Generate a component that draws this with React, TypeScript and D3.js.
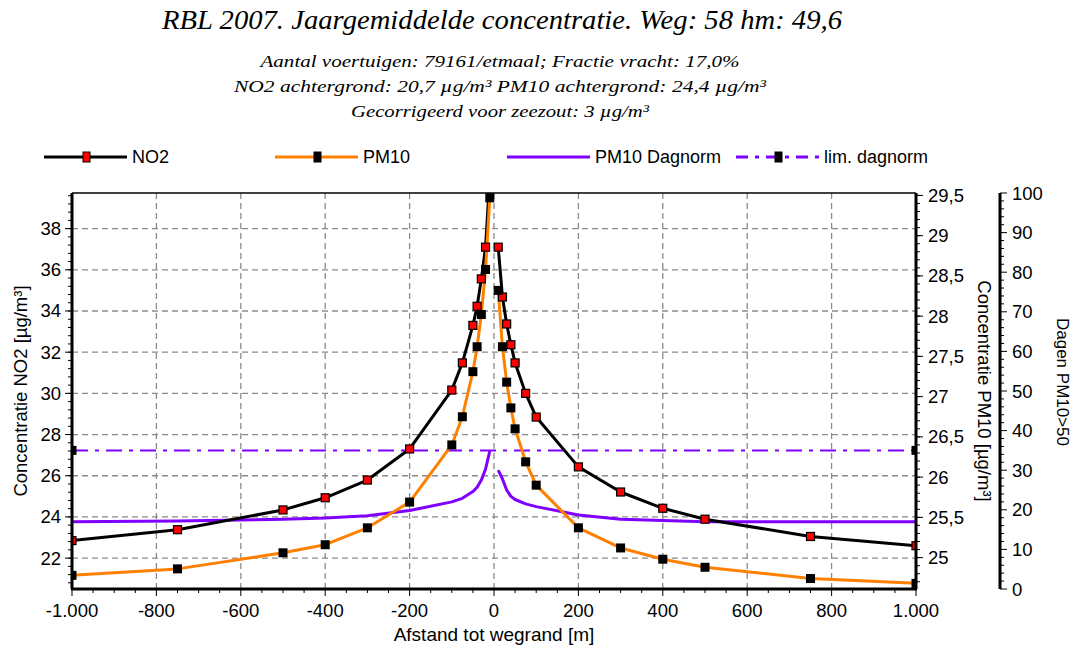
import * as d3 from "d3";

// afstanden links en rechts van de weg (gat over de weg zelf)
const distLeft = [-1000, -750, -500, -400, -300, -200, -100, -75, -50, -40, -30, -20, -10];
const distRight = [10, 20, 30, 40, 50, 75, 100, 200, 300, 400, 500, 750, 1000];

const no2Left = [22.85, 23.38, 24.34, 24.93, 25.79, 27.3, 30.16, 31.48, 33.3, 34.23, 35.56, 37.1, 40.5];
const no2Right = [37.1, 34.68, 33.37, 32.36, 31.48, 30.0, 28.85, 26.43, 25.21, 24.42, 23.89, 23.05, 22.6];

const pm10Left = [24.78, 24.86, 25.06, 25.16, 25.37, 25.69, 26.4, 26.75, 27.31, 27.62, 28.02, 28.58, 29.47];
const pm10Right = [28.32, 27.62, 27.18, 26.86, 26.6, 26.19, 25.9, 25.37, 25.12, 24.98, 24.88, 24.74, 24.68];

const dagLeft = [17.0, 17.2, 17.6, 17.9, 18.5, 19.8, 22.0, 22.9, 24.6, 25.7, 27.5, 30.3, 34.8];
const dagRight = [30.0, 27.8, 25.0, 23.4, 22.6, 21.5, 20.8, 18.7, 17.6, 17.3, 17.0, 17.0, 17.0];

const limDagnorm = 35;
const limDist = [-1000, 1000];

const distTicks = [-1000, -800, -600, -400, -200, 0, 200, 400, 600, 800, 1000];
const no2Ticks = [22, 24, 26, 28, 30, 32, 34, 36, 38];
const pm10Ticks = [25, 25.5, 26, 26.5, 27, 27.5, 28, 28.5, 29, 29.5];
const dagenTicks = [0, 10, 20, 30, 40, 50, 60, 70, 80, 90, 100];

const title = "RBL 2007. Jaargemiddelde concentratie. Weg: 58 hm: 49,6";
const subtitles = [
  "Aantal voertuigen: 79161/etmaal; Fractie vracht: 17,0%",
  "NO2 achtergrond: 20,7 µg/m³ PM10 achtergrond: 24,4 µg/m³",
  "Gecorrigeerd voor zeezout: 3 µg/m³",
];
const subWidths = [479, 532, 298];

const nl = d3.formatLocale({ decimal: ",", thousands: ".", grouping: [3], currency: ["", ""], minus: "-" });
const fmtDist = nl.format(",");
const fmtPm = nl.format(".1~f");

const L = 72, R = 916, T = 193, B = 589;
const ORANGE = "#ff8000";
const PURPLE = "#8000ff";
const GRID = "#8a8a8a";
const SANS = "'Liberation Sans', Arial, sans-serif";
const SERIF = "'Liberation Serif', 'Times New Roman', serif";
const TICK = 18.5;

export default function App() {
  const x = d3.scaleLinear().domain([-1000, 1000]).range([L, R]);
  const yNo2 = d3.scaleLinear().domain([20.5, 39.73]).range([B, T]);
  const yPm = d3.scaleLinear().domain([24.61, 29.53]).range([B, T]);
  const yDag = d3.scaleLinear().domain([0, 100]).range([B, T]);

  const mk = (ys: number[], dists: number[], sc: d3.ScaleLinear<number, number>) =>
    d3.line<number>().x((_, i) => x(dists[i])).y((v) => sc(v))(ys) || "";

  const no2Minor = d3.range(-4, 45).map((i) => 22 + i * 0.4).filter((v) => v >= 20.5 && v <= 39.73);
  const pmMinor = d3.range(-4, 46).map((i) => 25 + i * 0.1).filter((v) => v >= 24.61 && v <= 29.53);
  const dagMinor = d3.range(0, 101, 2);
  const distMinor = d3.range(-1000, 1001, 50);

  const legend = [
    { x0: 44, label: "NO2", color: "#000", marker: "red" },
    { x0: 275, label: "PM10", color: ORANGE, marker: "black" },
    { x0: 507, label: "PM10 Dagnorm", color: PURPLE, marker: "" },
    { x0: 736, label: "lim. dagnorm", color: PURPLE, marker: "black", dash: true },
  ];

  return (
    <svg width={1077} height={652} style={{ position: "absolute", left: 0, top: 0, background: "#fff" }}>
      <defs>
        <clipPath id="plot">
          <rect x={L} y={T} width={R - L} height={B - T} />
        </clipPath>
      </defs>

      {/* titels */}
      <text x={162} y={29} textLength={680} lengthAdjust="spacingAndGlyphs" fontFamily={SERIF} fontStyle="italic" fontSize={27}>
        {title}
      </text>
      {subtitles.map((s, i) => (
        <text key={s} x={500 - subWidths[i] / 2} y={67 + i * 25} textLength={subWidths[i]} lengthAdjust="spacingAndGlyphs"
          fontFamily={SERIF} fontStyle="italic" fontSize={17}>
          {s}
        </text>
      ))}

      {/* legenda */}
      {legend.map((d) => (
        <g key={d.label}>
          <line x1={d.x0} x2={d.x0 + 83} y1={157} y2={157} stroke={d.color} strokeWidth={3}
            strokeDasharray={d.dash ? "12,7,4,7" : undefined} />
          {d.marker && (
            <rect x={d.x0 + 39} y={152} width={7} height={10} fill={d.marker} stroke="#000" strokeWidth={1} />
          )}
          <text x={d.x0 + 88} y={163} fontFamily={SANS} fontSize={18}>{d.label}</text>
        </g>
      ))}

      {/* grid */}
      {no2Ticks.map((t) => (
        <line key={"gy" + t} x1={L} x2={R} y1={yNo2(t)} y2={yNo2(t)} stroke={GRID} strokeWidth={1.3} strokeDasharray="6,4" />
      ))}
      {distTicks.slice(1, -1).map((t) => (
        <line key={"gx" + t} x1={x(t)} x2={x(t)} y1={T} y2={B} stroke={GRID} strokeWidth={1.3} strokeDasharray="6,4" />
      ))}

      {/* series */}
      <g clipPath="url(#plot)" fill="none" strokeLinejoin="round">
        <path d={mk(dagLeft, distLeft, yDag)} stroke={PURPLE} strokeWidth={3} />
        <path d={mk(dagRight, distRight, yDag)} stroke={PURPLE} strokeWidth={3} />
        <line x1={x(limDist[0])} x2={x(limDist[1])} y1={yDag(limDagnorm)} y2={yDag(limDagnorm)}
          stroke={PURPLE} strokeWidth={2} strokeDasharray="16,7,4,7" />
        <path d={mk(no2Left, distLeft, yNo2)} stroke="#000" strokeWidth={3} />
        <path d={mk(no2Right, distRight, yNo2)} stroke="#000" strokeWidth={3} />
        <path d={mk(pm10Left, distLeft, yPm)} stroke={ORANGE} strokeWidth={3} />
        <path d={mk(pm10Right, distRight, yPm)} stroke={ORANGE} strokeWidth={3} />
      </g>
      <g clipPath="url(#plot)">
        {[...distLeft.map((d, i) => [d, no2Left[i]]), ...distRight.map((d, i) => [d, no2Right[i]])].map(([d, v]) => (
          <rect key={"n" + d} x={x(d) - 4} y={yNo2(v) - 4} width={8} height={8} fill="#ff0000" stroke="#000" strokeWidth={1.2} />
        ))}
        {[...distLeft.map((d, i) => [d, pm10Left[i]]), ...distRight.map((d, i) => [d, pm10Right[i]])].map(([d, v]) => (
          <rect key={"p" + d} x={x(d) - 4.5} y={yPm(v) - 4.5} width={9} height={9} fill="#000" />
        ))}
        {limDist.map((d) => (
          <rect key={"l" + d} x={x(d) - 4.5} y={yDag(limDagnorm) - 4.5} width={9} height={9} fill="#000" />
        ))}
      </g>

      {/* kader */}
      <line x1={L} x2={R} y1={T} y2={T} stroke="#000" strokeWidth={1.5} />

      {/* x-as */}
      <line x1={L - 1} x2={R + 1} y1={B} y2={B} stroke="#000" strokeWidth={3} />
      {distMinor.map((t) => (
        <line key={"xm" + t} x1={x(t)} x2={x(t)} y1={B} y2={B + (t % 200 === 0 ? 7 : 4)} stroke="#000" strokeWidth={1} />
      ))}
      {distTicks.map((t) => (
        <text key={"xl" + t} x={x(t)} y={617} textAnchor="middle" fontFamily={SANS} fontSize={TICK}>{fmtDist(t)}</text>
      ))}
      <text x={494} y={641} textAnchor="middle" fontFamily={SANS} fontSize={19}>Afstand tot wegrand [m]</text>

      {/* linker as NO2 */}
      <line x1={L} x2={L} y1={T} y2={B} stroke="#000" strokeWidth={3} />
      {no2Minor.map((t) => (
        <line key={"ym" + t} x1={L - 4} x2={L} y1={yNo2(t)} y2={yNo2(t)} stroke="#000" strokeWidth={1} />
      ))}
      {no2Ticks.map((t) => (
        <g key={"yl" + t}>
          <line x1={L - 7} x2={L} y1={yNo2(t)} y2={yNo2(t)} stroke="#000" strokeWidth={1} />
          <text x={L - 11} y={yNo2(t) + 6.5} textAnchor="end" fontFamily={SANS} fontSize={TICK}>{t}</text>
        </g>
      ))}
      <text transform={`translate(27,${(T + B) / 2}) rotate(-90)`} textAnchor="middle" fontFamily={SANS} fontSize={18.5}>
        Concentratie NO2 [µg/m³]
      </text>

      {/* rechter as PM10 */}
      <line x1={R} x2={R} y1={T} y2={B} stroke="#000" strokeWidth={3} />
      {pmMinor.map((t) => (
        <line key={"pm" + t} x1={R} x2={R + 4} y1={yPm(t)} y2={yPm(t)} stroke="#000" strokeWidth={1} />
      ))}
      {pm10Ticks.map((t) => (
        <g key={"pl" + t}>
          <line x1={R} x2={R + 7} y1={yPm(t)} y2={yPm(t)} stroke="#000" strokeWidth={1} />
          <text x={R + 12} y={yPm(t) + 6.5} fontFamily={SANS} fontSize={TICK}>{fmtPm(t)}</text>
        </g>
      ))}
      <text transform={`translate(978,${(T + B) / 2}) rotate(90)`} textAnchor="middle" fontFamily={SANS} fontSize={18.5}>
        Concentratie PM10 [µg/m³]
      </text>

      {/* as dagen */}
      <line x1={1000} x2={1000} y1={T} y2={B} stroke="#000" strokeWidth={3} />
      {dagMinor.map((t) => (
        <line key={"dm" + t} x1={1000} x2={1000 + (t % 10 === 0 ? 7 : 4)} y1={yDag(t)} y2={yDag(t)} stroke="#000" strokeWidth={1} />
      ))}
      {dagenTicks.map((t) => (
        <text key={"dl" + t} x={1012} y={yDag(t) + 6.5} fontFamily={SANS} fontSize={TICK}>{t}</text>
      ))}
      <text transform={`translate(1057,382) rotate(90)`} textAnchor="middle" fontFamily={SANS} fontSize={17}>
        Dagen PM10&gt;50
      </text>
    </svg>
  );
}
